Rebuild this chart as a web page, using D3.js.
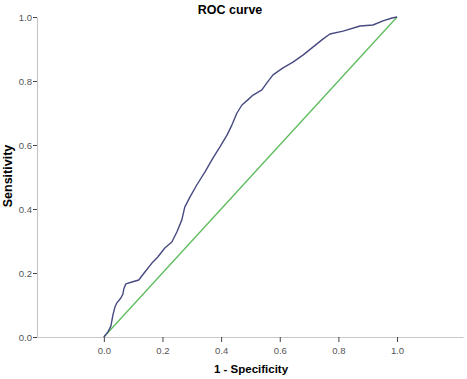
<!DOCTYPE html>
<html>
<head>
<meta charset="utf-8">
<script src="https://cdn.jsdelivr.net/npm/d3@7"></script>
<style>
  body { margin: 0; background: #fff; }
  text { font-family: "Liberation Sans", Arial, sans-serif; }
</style>
</head>
<body>
<svg id="chart"></svg>
<script>
// ROC curve points (1 - specificity, sensitivity)
const fpr = [0, .014, .024, .031, .038, .044, .058, .065, .068, .075, .096, .119, .140, .164, .184, .208,
  .232, .249, .266, .276, .294, .317, .345, .372, .396, .420, .437, .454, .471, .491, .509, .539, .556,
  .577, .611, .645, .679, .713, .747, .771, .816, .874, .918, .952, .983, 1];
const tpr = [0, .016, .034, .069, .094, .106, .122, .134, .150, .166, .172, .178, .203, .231, .250, .278,
  .297, .328, .366, .406, .438, .475, .516, .559, .594, .631, .663, .700, .725, .741, .756, .772, .794,
  .819, .841, .859, .881, .906, .931, .947, .956, .972, .975, .988, .997, 1];
const refLine = [[0, 0], [1, 1]];
const tickValues = [0, 0.2, 0.4, 0.6, 0.8, 1.0];

const width = 467, height = 379;
const svg = d3.select('#chart').attr('width', width).attr('height', height);

const x = d3.scaleLinear().domain([-0.228, 1.225]).range([37, 463]);
const y = d3.scaleLinear().domain([0, 1]).range([337, 17]);

// axes
const xAxis = svg.append('g')
  .attr('transform', `translate(0,${y(0)})`)
  .call(d3.axisBottom(x).tickValues(tickValues).tickFormat(d3.format('.1f')).tickSize(5).tickSizeOuter(0));
const yAxis = svg.append('g')
  .attr('transform', `translate(${x.range()[0]},0)`)
  .call(d3.axisLeft(y).tickValues(tickValues).tickFormat(d3.format('.1f')).tickSize(4).tickSizeOuter(0));

[xAxis, yAxis].forEach(g => {
  g.select('.domain').attr('stroke', '#c8c8c8').attr('stroke-width', 1.2);
  g.selectAll('.tick line').attr('stroke', '#444').attr('stroke-width', 1);
  g.selectAll('.tick text').attr('fill', '#555').style('font-size', '9.5px');
});
xAxis.selectAll('.tick text').attr('dy', '0.95em');
yAxis.selectAll('.tick text').attr('x', -5);

// reference diagonal
svg.append('path')
  .datum(refLine)
  .attr('fill', 'none')
  .attr('stroke', '#5cbd5c')
  .attr('stroke-width', 1.3)
  .attr('d', d3.line().x(d => x(d[0])).y(d => y(d[1])));

// ROC curve
svg.append('path')
  .datum(fpr.map((v, i) => [v, tpr[i]]))
  .attr('fill', 'none')
  .attr('stroke', '#474a80')
  .attr('stroke-width', 1.4)
  .attr('stroke-linejoin', 'round')
  .attr('d', d3.line().x(d => x(d[0])).y(d => y(d[1])));

// titles
svg.append('text')
  .attr('x', 230).attr('y', 14)
  .attr('text-anchor', 'middle')
  .style('font-size', '12.5px').style('font-weight', 'bold')
  .text('ROC curve');

svg.append('text')
  .attr('x', 251).attr('y', 373)
  .attr('text-anchor', 'middle')
  .style('font-size', '11.5px').style('font-weight', 'bold')
  .text('1 - Specificity');

svg.append('text')
  .attr('transform', 'translate(12,176) rotate(-90)')
  .attr('text-anchor', 'middle')
  .style('font-size', '12.5px').style('font-weight', 'bold')
  .text('Sensitivity');
</script>
</body>
</html>
